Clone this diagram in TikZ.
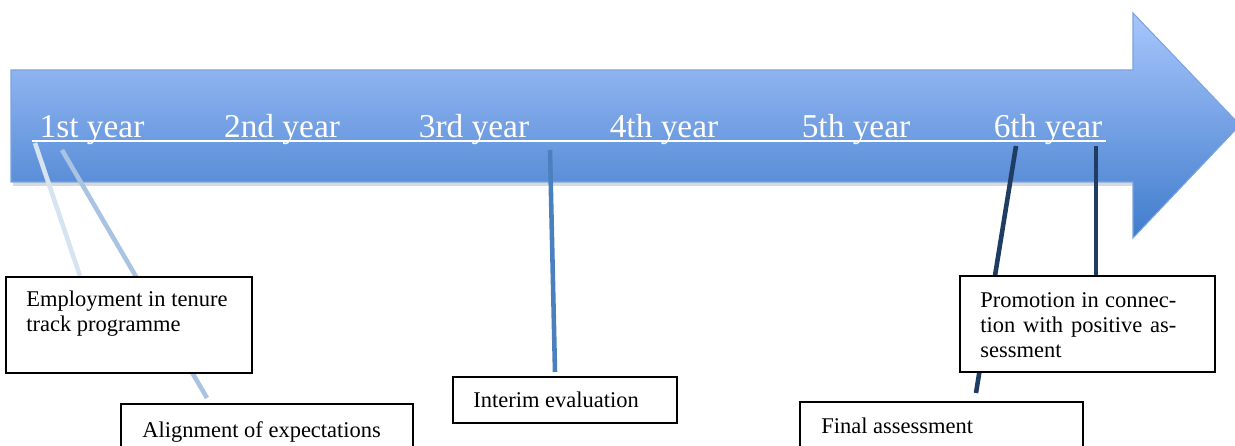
\documentclass[tikz,border=0pt]{standalone}
\usepackage{fontspec}
\setmainfont{Liberation Serif}
\usepackage{tikz}
\usetikzlibrary{calc,backgrounds}
\definecolor{arrowtop}{HTML}{A8C6FC}
\definecolor{arrowbot}{HTML}{407CCC}
\definecolor{arrowrim}{HTML}{7BA3E0}
\definecolor{tiepale}{HTML}{D6E3F1}
\definecolor{tielight}{HTML}{A9C4E2}
\definecolor{tiemid}{HTML}{4B80BF}
\definecolor{tienavy}{HTML}{1F3D63}
\tikzset{
  card/.style={draw=black, line width=1.1pt, fill=white, anchor=north west, inner sep=0pt},
  cardtext/.style={anchor=north west, align=left, inner sep=0pt, font=\fontsize{12.8}{14.2}\selectfont},
  yearlab/.style={text=white, anchor=base, inner sep=0pt, font=\fontsize{19}{22}\selectfont},
  tie/.style={line width=2.6pt},
}

\begin{document}
\begin{tikzpicture}[x=0.02cm, y=-0.02cm]
  \clip (0,0) rectangle (1235,446);
  % timeline arrow
  \begin{scope}[on background layer]
    \fill[black, opacity=0.15] (13,74) -- (1135,74) -- (1135,186) -- (13,186) -- cycle;
    \shadedraw[top color=arrowtop, bottom color=arrowbot, draw=arrowrim, line width=0.6pt]
      (11,70) -- (1133,70) -- (1133,13) -- (1240,125) -- (1133,238) -- (1133,182) -- (11,182) -- cycle;
  \end{scope}
  \draw[white, line width=0.9pt] (32,141) -- (1106,141);
  \foreach \n/\x in {1st/92,2nd/282,3rd/474,4th/664,5th/856,6th/1048}
    \node[yearlab] (y\n) at (\x,138) {\n\ year};
  % anchor points on the timeline
  \coordinate (tEmp) at (35,143);
  \coordinate (tAlign) at (62,150);
  \coordinate (tInterim) at (550,150);
  \coordinate (tFinal) at (1016,146);
  \coordinate (tPromo) at (1096,146);
  % boxes
  \node[card, minimum width=4.92cm, minimum height=1.92cm] (emp) at (5,276) {};
  \node[cardtext] at ($(emp.north west)+(21,15)$) {Employment in tenure\\track programme};
  \node[card, minimum width=5.84cm, minimum height=1.2cm] (align) at (120,403) {};
  \node[cardtext] at ($(align.north west)+(22,18)$) {Alignment of expectations};
  \node[card, minimum width=4.48cm, minimum height=0.92cm] (interim) at (452,376) {};
  \node[cardtext] at ($(interim.north west)+(21,16)$) {Interim evaluation};
  \node[card, minimum width=5.66cm, minimum height=1.2cm] (final) at (799,401) {};
  \node[cardtext] at ($(final.north west)+(22,17)$) {Final assessment};
  \node[card, minimum width=5.1cm, minimum height=1.92cm] (promo) at (959,275) {};
  \node[cardtext] at ($(promo.north west)+(21,17)$)
    {\makebox[3.92cm][s]{Promotion in connec-}\\\makebox[3.92cm][s]{tion with positive as-}\\sessment};
  % connectors
  \begin{scope}[on background layer]
    \draw[tie, tiepale] (tEmp) -- ($(emp.north west)+(75,0)$);
    \draw[tie, tielight] (tAlign) -- ($(align.north west)+(87,-5)$);
    \draw[tie, tiemid] (tInterim) -- ($(interim.north west)+(103,-4)$);
    \draw[tie, tienavy] (tFinal) -- ($(final.north west)+(177,-8)$);
    \draw[tie, tienavy] (tPromo) -- ($(promo.north west)+(137,0)$);
  \end{scope}
\end{tikzpicture}
\end{document}
